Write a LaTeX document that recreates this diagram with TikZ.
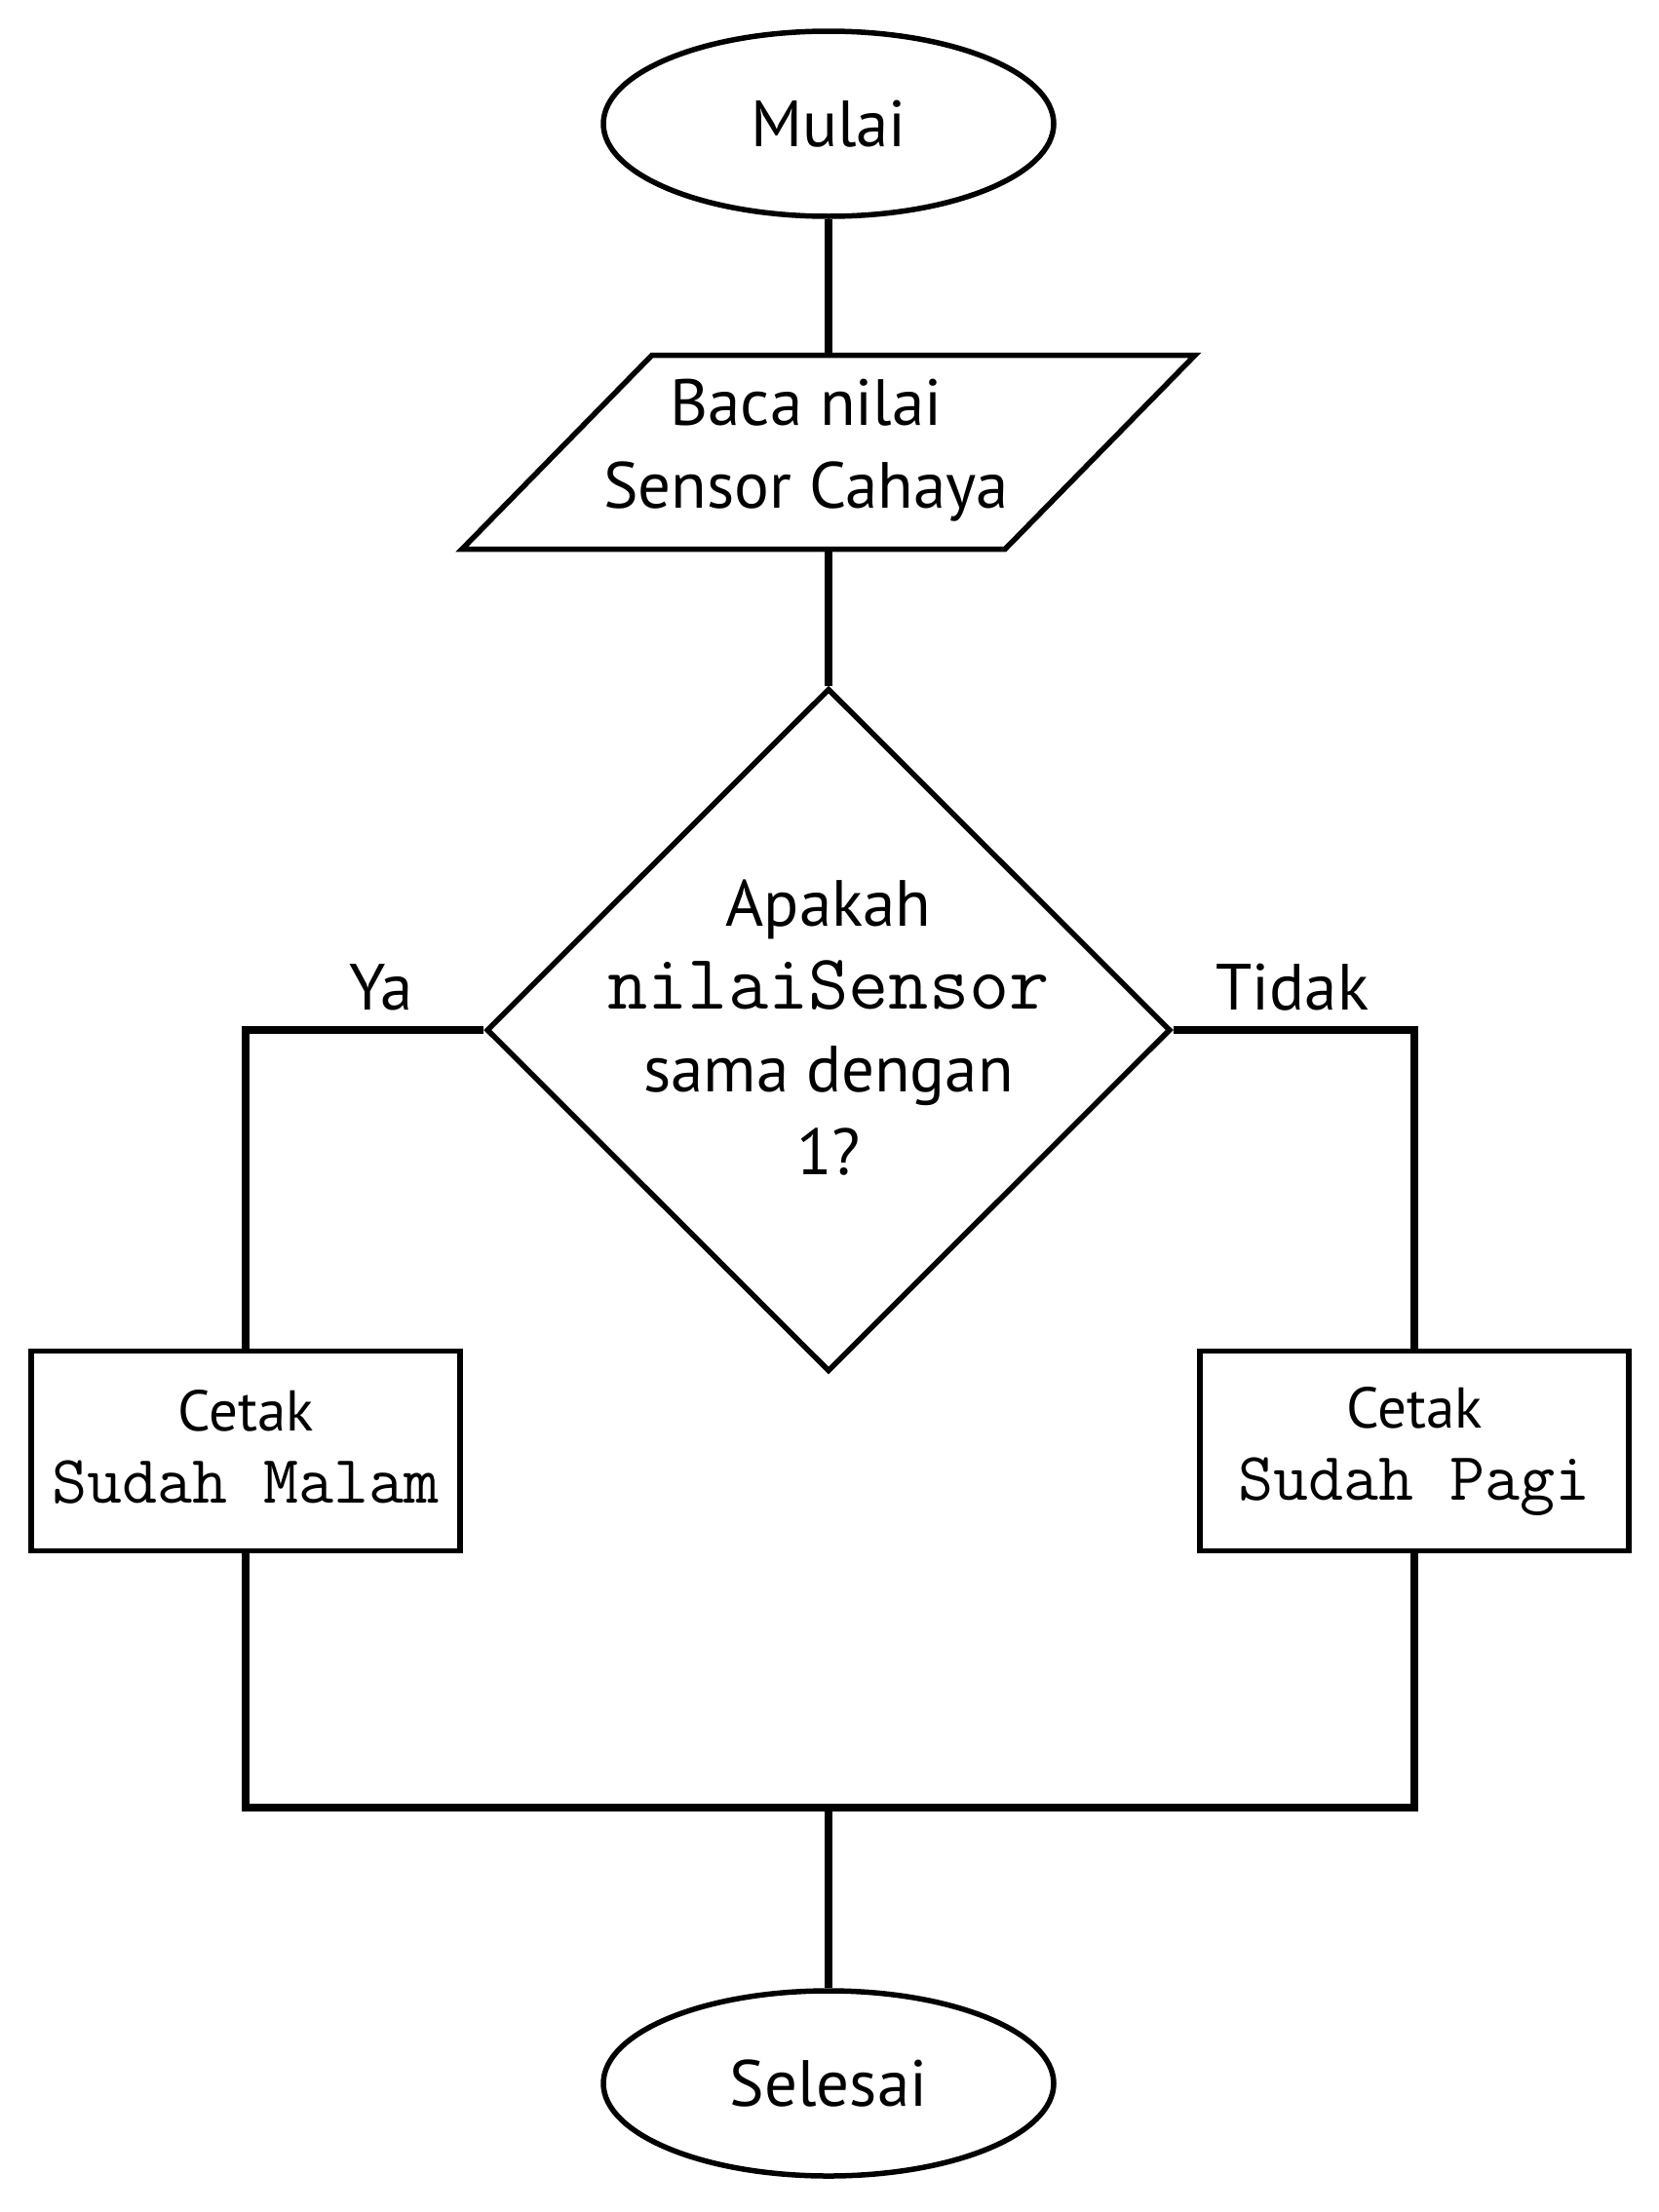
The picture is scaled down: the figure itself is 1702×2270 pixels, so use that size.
\documentclass[tikz,border=0pt]{standalone}
\usepackage{fontspec}
\setmainfont{PT Sans}
\usetikzlibrary{shapes.geometric}
\begin{document}
\begin{tikzpicture}[x=1pt, y=-1pt,
        shapeline/.style={draw, line width=5.5pt, inner sep=0pt},
        terminal/.style={shapeline, ellipse, minimum width=462pt, minimum height=190pt},
        inout/.style={shapeline, trapezium, trapezium left angle=45.6, trapezium right angle=134.4, inner xsep=10pt, inner ysep=99.5pt, minimum width=752pt, trapezium stretches body},
        decision/.style={shapeline, diamond, minimum width=702pt, minimum height=701pt},
        process/.style={shapeline, rectangle, minimum width=440pt, minimum height=205pt},
        bigtext/.style={font=\fontsize{67}{85}\selectfont, align=center},
        boxtext/.style={font=\fontsize{59}{74}\selectfont, align=center},
        flow/.style={line width=7.5pt}]
        % \draw [gray] (0,0) grid [step=100] (1702,2270);
        \useasboundingbox (0,0) rectangle (1702,2270);
        \node [terminal, bigtext, name=start] at (850, 127) {Mulai};
        \node [inout, name=read] at (850, 464) {};
        \node [bigtext, name=read_txt] at (827, 462) {Baca nilai\\Sensor Cahaya};
        \node [decision, name=cond] at (850, 1057) {};
        \node [bigtext, name=cond_txt] at (850, 1055) {Apakah\\{\ttfamily\fontsize{80}{85}\selectfont nilaiSensor}\\sama dengan\\1?};
        \node [bigtext, name=ya] at (391, 1013) {Ya};
        \node [bigtext, name=tidak] at (1326, 1013) {Tidak};
        \node [process, name=malam] at (252, 1489) {};
        \node [boxtext, name=malam_txt] at (252, 1485) {Cetak\\{\ttfamily\fontsize{70}{74}\selectfont Sudah Malam}};
        \node [process, name=pagi] at (1451, 1489) {};
        \node [boxtext, name=pagi_txt] at (1451, 1489) {Cetak\\{\ttfamily\fontsize{70}{74}\selectfont Sudah Pagi}};
        \node [terminal, bigtext, name=finish] at (850, 2138) {Selesai};
        \coordinate (join) at (850, 1855);
        \draw [flow] (start) -- (read);
        \draw [flow] (read) -- (cond);
        \draw [flow] (cond.west) -| (malam.north);
        \draw [flow] (cond.east) -| (pagi.north);
        \draw [flow] (malam.south) |- (join) -| (pagi.south);
        \draw [flow] (join) -- (finish);
    \end{tikzpicture}
\end{document}
